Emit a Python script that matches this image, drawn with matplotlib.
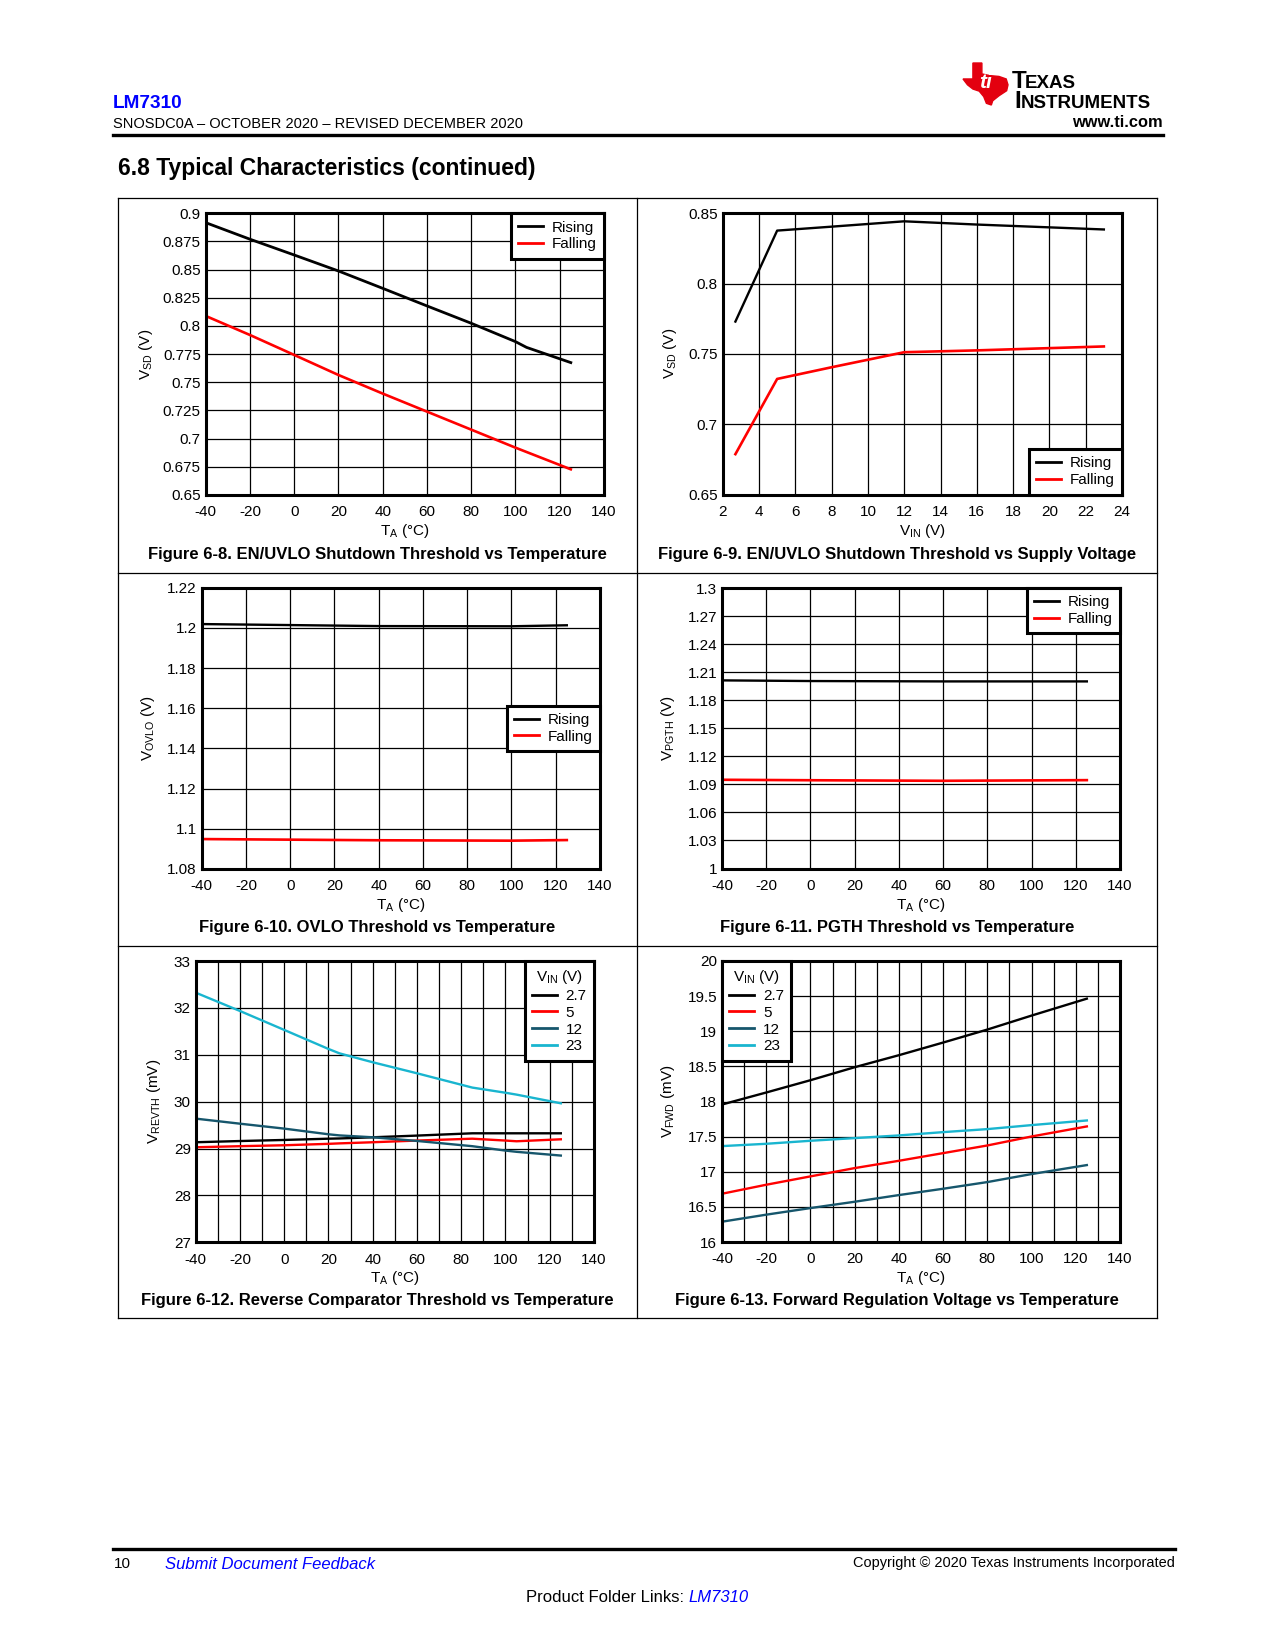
import numpy as np
import matplotlib
matplotlib.use("Agg")
import matplotlib.pyplot as plt
from matplotlib.lines import Line2D
from matplotlib.patches import Polygon

plt.rcParams["font.family"] = ["Liberation Sans", "DejaVu Sans"]
plt.rcParams["mathtext.default"] = "regular"

W, H = 1275, 1650
TEAL = "#16566c"
CYAN = "#19b5cf"
BLUE = "#0000ff"

# ---------------- data ----------------
# Figure 6-8: EN/UVLO shutdown threshold vs temperature
t68_rise = [-40, -20, 0, 20, 40, 60, 80, 100, 105, 125]
v68_rise = [0.8917, 0.877, 0.863, 0.8488, 0.8334, 0.8178, 0.8024, 0.7861, 0.781, 0.7675]
t68_fall = [-40, -20, 0, 20, 40, 60, 80, 100, 125]
v68_fall = [0.8089, 0.792, 0.7743, 0.7565, 0.740, 0.724, 0.708, 0.692, 0.6728]

# Figure 6-9: EN/UVLO shutdown threshold vs supply voltage
vin69 = [2.7, 5, 8, 12, 16, 20, 23]
v69_rise = [0.773, 0.8377, 0.8405, 0.8443, 0.842, 0.840, 0.8385]
v69_fall = [0.6787, 0.7322, 0.7405, 0.7512, 0.7525, 0.7541, 0.7553]

# Figure 6-10: OVLO threshold vs temperature
t610 = [-40, 0, 40, 100, 125]
v610_rise = [1.2019, 1.2014, 1.2009, 1.2008, 1.2013]
v610_fall = [1.0949, 1.0946, 1.0943, 1.0941, 1.0944]

# Figure 6-11: PGTH threshold vs temperature
t611 = [-40, 0, 60, 125]
v611_rise = [1.2012, 1.2005, 1.2001, 1.2001]
v611_fall = [1.0949, 1.0944, 1.0938, 1.0945]

# Figure 6-12: reverse comparator threshold vs temperature (mV)
t612 = [-40, -20, 0, 20, 25, 40, 60, 85, 100, 105, 125]
v612_27 = [29.134, 29.16, 29.183, 29.21, 29.215, 29.24, 29.276, 29.325, 29.325, 29.325, 29.325]
v612_5 = [29.027, 29.05, 29.07, 29.10, 29.11, 29.134, 29.17, 29.21, 29.17, 29.155, 29.197]
v612_12 = [29.638, 29.53, 29.425, 29.304, 29.28, 29.24, 29.162, 29.05, 28.956, 28.93, 28.85]
v612_23 = [32.325, 31.934, 31.53, 31.124, 31.03, 30.84, 30.605, 30.30, 30.19, 30.15, 29.965]

# Figure 6-13: forward regulation voltage vs temperature (mV)
t613 = [-40, -20, 0, 20, 40, 60, 80, 100, 125]
v613_27 = [17.957, 18.128, 18.303, 18.488, 18.659, 18.839, 19.024, 19.223, 19.464]
v613_5 = [16.687, 16.815, 16.934, 17.052, 17.156, 17.265, 17.374, 17.502, 17.645]
v613_12 = [16.289, 16.389, 16.483, 16.573, 16.668, 16.758, 16.853, 16.967, 17.095]
v613_23 = [17.365, 17.398, 17.441, 17.479, 17.517, 17.564, 17.607, 17.664, 17.73]

vin_labels = ["2.7", "5", "12", "23"]
vin_colors = ["black", "red", TEAL, CYAN]

temp_ticks = [-40, -20, 0, 20, 40, 60, 80, 100, 120, 140]
vin_ticks = [2, 4, 6, 8, 10, 12, 14, 16, 18, 20, 22, 24]
y68_ticks = ["0.65", "0.675", "0.7", "0.725", "0.75", "0.775", "0.8", "0.825", "0.85", "0.875", "0.9"]
y69_ticks = ["0.65", "0.7", "0.75", "0.8", "0.85"]
y610_ticks = ["1.08", "1.1", "1.12", "1.14", "1.16", "1.18", "1.2", "1.22"]
y611_ticks = ["1", "1.03", "1.06", "1.09", "1.12", "1.15", "1.18", "1.21", "1.24", "1.27", "1.3"]
y612_ticks = ["27", "28", "29", "30", "31", "32", "33"]
y613_ticks = ["16", "16.5", "17", "17.5", "18", "18.5", "19", "19.5", "20"]

fig = plt.figure(figsize=(W / 100, H / 100), dpi=100)


def fx(x):
    return x / W


def fy(y):
    return 1 - y / H


def make_axes(l, t, r, b, xticks, yticks, xlabel, ylabel, ylab_x, minor_x=False):
    ax = fig.add_axes([fx(l), fy(b), (r - l) / W, (b - t) / H])
    for s in ax.spines.values():
        s.set_linewidth(2.2)
    yv = [float(v) for v in yticks]
    ax.set_xlim(xticks[0], xticks[-1])
    ax.set_ylim(yv[0], yv[-1])
    ax.set_xticks(xticks)
    ax.set_xticklabels([str(v) for v in xticks])
    ax.set_yticks(yv)
    ax.set_yticklabels(yticks)
    if minor_x:
        ax.set_xticks(np.arange(xticks[0], xticks[-1] + 1, 10), minor=True)
    ax.tick_params(which="both", length=0, labelsize=11)
    ax.tick_params(axis="x", pad=7.5)
    ax.tick_params(axis="y", pad=3.5)
    ax.grid(True, which="both", color="black", lw=0.9)
    ax.set_axisbelow(True)
    ax.set_xlabel(xlabel, fontsize=11)
    ax.xaxis.set_label_coords(0.5, -27 / (b - t))
    ax.set_ylabel(ylabel, fontsize=11)
    ax.yaxis.set_label_coords((ylab_x + 8 - l) / (r - l), 0.5)
    return ax


def add_legend(ax, loc, handles, labels, title=None):
    leg = ax.legend(handles, labels, loc=loc, title=title, fontsize=11,
                    title_fontsize=11, frameon=True, fancybox=False,
                    borderaxespad=0, handlelength=1.6, handletextpad=0.6,
                    labelspacing=0.18, borderpad=0.48, framealpha=1)
    leg.get_frame().set_edgecolor("black")
    leg.get_frame().set_linewidth(2.2)
    return leg


def two_lines():
    return [Line2D([], [], color="black", lw=2), Line2D([], [], color="red", lw=2)]


# Fig 6-8
ax = make_axes(205.7, 213.3, 604, 495, temp_ticks, y68_ticks, "T$_A$ (°C)", "V$_{SD}$ (V)", 146.7)
ax.plot(t68_rise, v68_rise, color="black", lw=2)
ax.plot(t68_fall, v68_fall, color="red", lw=1.9)
add_legend(ax, "upper right", two_lines(), ["Rising", "Falling"])

# Fig 6-9
ax = make_axes(722.7, 213.3, 1122, 494.5, vin_ticks, y69_ticks, "V$_{IN}$ (V)", "V$_{SD}$ (V)", 670.7)
ax.plot(vin69, v69_rise, color="black", lw=1.7)
ax.plot(vin69, v69_fall, color="red", lw=1.9)
add_legend(ax, "lower right", two_lines(), ["Rising", "Falling"])

# Fig 6-10
ax = make_axes(201.7, 587.7, 600, 869, temp_ticks, y610_ticks, "T$_A$ (°C)", "V$_{OVLO}$ (V)", 149.3)
ax.plot(t610, v610_rise, color="black", lw=1.7)
ax.plot(t610, v610_fall, color="red", lw=1.9)
add_legend(ax, "center right", two_lines(), ["Rising", "Falling"])

# Fig 6-11
ax = make_axes(722, 588, 1120, 868.5, temp_ticks, y611_ticks, "T$_A$ (°C)", "V$_{PGTH}$ (V)", 669)
ax.plot(t611, v611_rise, color="black", lw=1.7)
ax.plot(t611, v611_fall, color="red", lw=1.9)
add_legend(ax, "upper right", two_lines(), ["Rising", "Falling"])

# Fig 6-12
ax = make_axes(195.7, 961, 594, 1242.3, temp_ticks, y612_ticks, "T$_A$ (°C)", "V$_{REVTH}$ (mV)", 155,
               minor_x=True)
for vals, c in zip([v612_27, v612_5, v612_12, v612_23], vin_colors):
    ax.plot(t612, vals, color=c, lw=1.7)
add_legend(ax, "upper right", [Line2D([], [], color=c, lw=2) for c in vin_colors], vin_labels,
           title="V$_{IN}$ (V)")

# Fig 6-13
ax = make_axes(722, 961, 1120, 1242, temp_ticks, y613_ticks, "T$_A$ (°C)", "V$_{FWD}$ (mV)", 669,
               minor_x=True)
for vals, c in zip([v613_27, v613_5, v613_12, v613_23], vin_colors):
    ax.plot(t613, vals, color=c, lw=1.7)
add_legend(ax, "upper left", [Line2D([], [], color=c, lw=2) for c in vin_colors], vin_labels,
           title="V$_{IN}$ (V)")

# ---------------- frame around the figure grid ----------------
box_l, box_r, box_t, box_b = 118, 1157, 198, 1318
mid_x, row1, row2 = 637, 573, 946
frame = [((box_l, box_r), (box_t, box_t)), ((box_l, box_r), (box_b, box_b)),
         ((box_l, box_l), (box_t, box_b)), ((box_r, box_r), (box_t, box_b)),
         ((mid_x, mid_x), (box_t, box_b)), ((box_l, box_r), (row1, row1)),
         ((box_l, box_r), (row2, row2))]
for xs, ys in frame:
    fig.add_artist(Line2D([fx(x) for x in xs], [fy(y) for y in ys], color="black", lw=0.9))

captions = [
    ("Figure 6-8. EN/UVLO Shutdown Threshold vs Temperature", 377.5, 555),
    ("Figure 6-9. EN/UVLO Shutdown Threshold vs Supply Voltage", 897, 555),
    ("Figure 6-10. OVLO Threshold vs Temperature", 377.5, 928),
    ("Figure 6-11. PGTH Threshold vs Temperature", 897, 928),
    ("Figure 6-12. Reverse Comparator Threshold vs Temperature", 377.5, 1301),
    ("Figure 6-13. Forward Regulation Voltage vs Temperature", 897, 1301),
]
for txt, x, y in captions:
    fig.text(fx(x), fy(y), txt, ha="center", va="center", fontsize=12, fontweight="bold")

# ---------------- page header ----------------
fig.text(fx(112.6), fy(103), "LM7310", color=BLUE, fontsize=13.7, fontweight="bold", va="center")
fig.text(fx(112.6), fy(123.5), "SNOSDC0A \u2013 OCTOBER 2020 \u2013 REVISED DECEMBER 2020",
         fontsize=10.5, va="center")
fig.text(fx(1163), fy(122.5), "www.ti.com", fontsize=11.8, fontweight="bold", va="center", ha="right")
fig.add_artist(Line2D([fx(112.6), fx(1163)], [fy(134.7), fy(134.7)], color="black", lw=2.4))
fig.text(fx(118), fy(168), "6.8 Typical Characteristics (continued)", fontsize=16.5,
         fontweight="bold", va="center")

# TI logo: rough Texas outline plus the wordmark
shape = np.array([(0.22, 1.0), (0.42, 1.0), (0.42, 0.74), (0.60, 0.70), (0.80, 0.68), (0.96, 0.62),
                  (1.0, 0.48), (0.97, 0.34), (0.80, 0.22), (0.66, 0.10), (0.63, 0.0), (0.52, 0.04),
                  (0.46, 0.20), (0.36, 0.33), (0.22, 0.38), (0.10, 0.48), (0.0, 0.62), (0.22, 0.62)])
lx0, lx1, ly0, ly1 = 963, 1008, 63, 105
pts = [(fx(lx0 + px * (lx1 - lx0)), fy(ly1 - py * (ly1 - ly0))) for px, py in shape]
fig.add_artist(Polygon(pts, closed=True, color="#e3000f", transform=fig.transFigure))
fig.text(fx(985), fy(82), "ti", color="white", fontsize=15, fontweight="bold", style="italic",
         ha="center", va="center")
fig.text(fx(1012), fy(88), "T", fontsize=17.5, fontweight="bold", va="baseline")
fig.text(fx(1025), fy(88), "EXAS", fontsize=13.5, fontweight="bold", va="baseline")
fig.text(fx(1014), fy(108), "I", fontsize=17.5, fontweight="bold", va="baseline")
fig.text(fx(1021), fy(108), "NSTRUMENTS", fontsize=13.5, fontweight="bold", va="baseline")

# ---------------- page footer ----------------
fig.add_artist(Line2D([fx(112.6), fx(1175)], [fy(1548.7), fy(1548.7)], color="black", lw=2.4))
fig.text(fx(113.6), fy(1564.5), "10", fontsize=11, va="center")
fig.text(fx(165), fy(1564.5), "Submit Document Feedback", fontsize=12, style="italic",
         color=BLUE, va="center")
fig.text(fx(1175), fy(1563), "Copyright \u00a9 2020 Texas Instruments Incorporated", fontsize=10.45,
         ha="right", va="center")
fig.text(fx(684), fy(1598), "Product Folder Links:", fontsize=12, ha="right", va="center")
fig.text(fx(688), fy(1598), "LM7310", fontsize=12, style="italic", color=BLUE, ha="left", va="center")

fig.savefig("out.png", dpi=100)
